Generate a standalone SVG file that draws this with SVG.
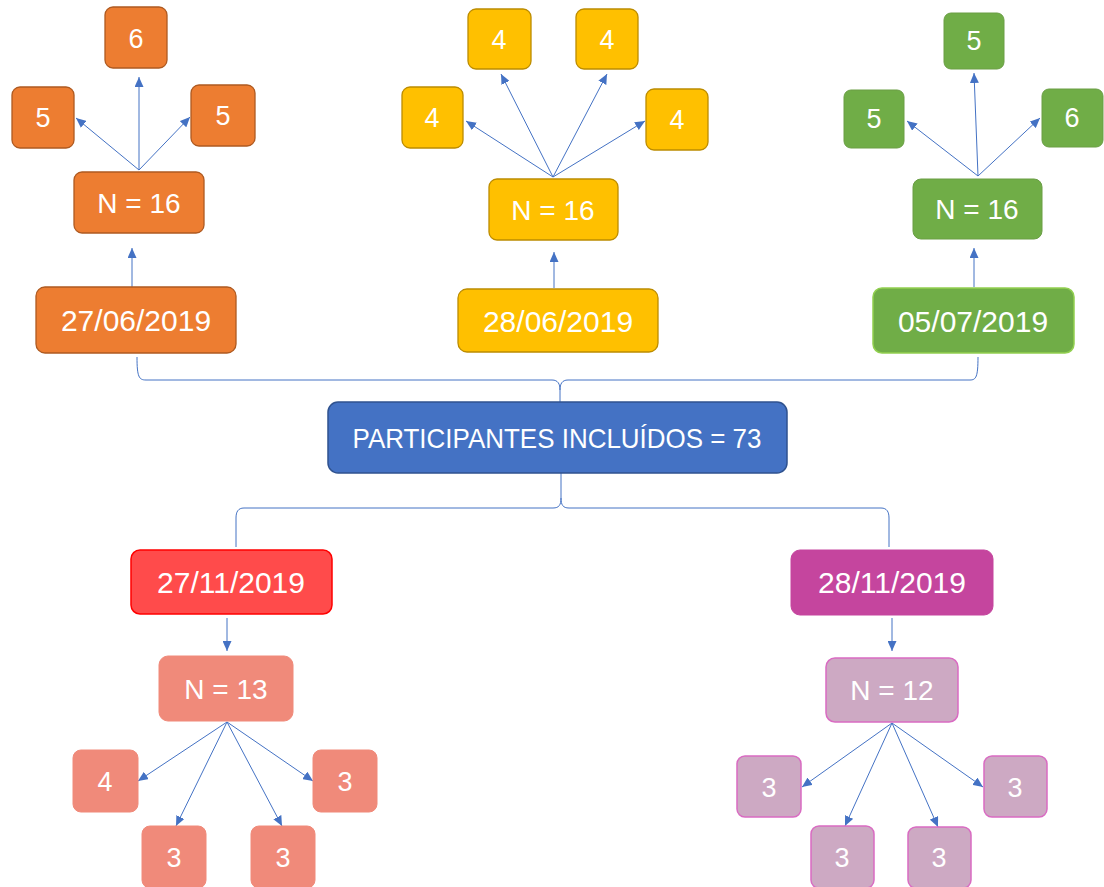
<svg xmlns="http://www.w3.org/2000/svg" width="1104" height="887" viewBox="0 0 1104 887">
<style>
text{font-family:"Liberation Sans","Open Sans",sans-serif;fill:#fff;text-anchor:middle}
.d{font-size:30px}
.n{font-size:28px}
.s{font-size:27px}
.or{fill:#ED7D31;stroke:#AE5A21;stroke-width:1.3}
.ye{fill:#FFC000;stroke:#BC8C00;stroke-width:1.3}
.gr{fill:#70AD47;stroke:#6A9E45;stroke-width:1}
.grd{fill:#70AD47;stroke:#92D050;stroke-width:1.5}
.bl{fill:#4472C4;stroke:#2F528F;stroke-width:1.5}
.rd{fill:#FF4B4B;stroke:#FF0000;stroke-width:1.5}
.mg{fill:#C5459E;stroke:#C5459E}
.sa{fill:#F08A7A;stroke:#F08A7A}
.lp{fill:#CDA9C3;stroke:#D96BC2;stroke-width:1.5}
.c{fill:none;stroke:#4472C4;stroke-width:1}
.a{fill:none;stroke:#4472C4;stroke-width:1;marker-end:url(#ah)}
</style>
<defs>
<marker id="ah" markerUnits="userSpaceOnUse" markerWidth="11" markerHeight="9" refX="10" refY="4.5" orient="auto">
<path d="M0,0 L10,4.5 L0,9 z" fill="#4472C4"/>
</marker>
</defs>
<rect width="1104" height="887" fill="#fff"/>
<g id="connectors">
<path class="c" d="M137,357 C137,377 139,380 146,380 L552,380 C558,380 560,384 560,390 L560,403"/>
<path class="c" d="M560,390 C560,384 562,380 568,380 L970,380 C976,380 978,377 978,357"/>
<path class="c" d="M561,473 L561,498 C561,505 559,508 553,508 L244,508 C238,508 236,512 236,518 L236,547"/>
<path class="c" d="M561,498 C561,505 563,508 569,508 L881,508 C887,508 889,512 889,518 L889,547"/>
<line class="a" x1="132" y1="287" x2="132" y2="248"/>
<line class="a" x1="139" y1="170" x2="139" y2="77"/>
<line class="a" x1="139" y1="170" x2="76" y2="118"/>
<line class="a" x1="139" y1="170" x2="190" y2="117"/>
<line class="a" x1="554" y1="288" x2="554" y2="252"/>
<line class="a" x1="553" y1="177" x2="466" y2="121"/>
<line class="a" x1="553" y1="177" x2="501" y2="74"/>
<line class="a" x1="553" y1="177" x2="607" y2="74"/>
<line class="a" x1="553" y1="177" x2="645" y2="121"/>
<line class="a" x1="974" y1="287" x2="974" y2="248"/>
<line class="a" x1="978" y1="176" x2="907" y2="121"/>
<line class="a" x1="978" y1="176" x2="974" y2="73"/>
<line class="a" x1="978" y1="176" x2="1040" y2="118"/>
<line class="a" x1="227" y1="618" x2="227" y2="651"/>
<line class="a" x1="227" y1="722" x2="138" y2="781"/>
<line class="a" x1="227" y1="722" x2="176" y2="826"/>
<line class="a" x1="227" y1="722" x2="282" y2="826"/>
<line class="a" x1="227" y1="722" x2="313" y2="781"/>
<line class="a" x1="892" y1="618" x2="892" y2="651"/>
<line class="a" x1="892" y1="723" x2="802" y2="787"/>
<line class="a" x1="892" y1="723" x2="845" y2="826"/>
<line class="a" x1="892" y1="723" x2="938" y2="827"/>
<line class="a" x1="892" y1="723" x2="983" y2="787"/>
</g>
<g id="o6"><rect class="or" x="105" y="7" width="62" height="61" rx="8"/><text class="s" x="136" y="48">6</text></g>
<g id="o5L"><rect class="or" x="12" y="87" width="62" height="61" rx="8"/><text class="s" x="43" y="127">5</text></g>
<g id="o5R"><rect class="or" x="191" y="85" width="64" height="61" rx="8"/><text class="s" x="223" y="125">5</text></g>
<g id="oN"><rect class="or" x="74" y="172" width="130" height="61" rx="8" stroke="none"/><text class="n" x="139" y="213">N = 16</text></g>
<g id="oD"><rect class="or" x="36" y="287" width="200" height="66" rx="9"/><text class="d" x="136" y="331">27/06/2019</text></g>
<g id="y4a"><rect class="ye" x="468" y="9" width="63" height="60" rx="8"/><text class="s" x="499" y="49">4</text></g>
<g id="y4b"><rect class="ye" x="576" y="9" width="62" height="60" rx="8"/><text class="s" x="607" y="49">4</text></g>
<g id="y4c"><rect class="ye" x="402" y="87" width="61" height="61" rx="8"/><text class="s" x="432" y="127">4</text></g>
<g id="y4d"><rect class="ye" x="646" y="89" width="62" height="61" rx="8"/><text class="s" x="677" y="129">4</text></g>
<g id="yN"><rect class="ye" x="489" y="179" width="129" height="61" rx="8" stroke="none"/><text class="n" x="553" y="220">N = 16</text></g>
<g id="yD"><rect class="ye" x="458" y="289" width="200" height="63" rx="9"/><text class="d" x="558" y="332">28/06/2019</text></g>
<g id="g5T"><rect class="gr" x="944" y="13" width="60" height="56" rx="7"/><text class="s" x="974" y="50">5</text></g>
<g id="g5L"><rect class="gr" x="844" y="90" width="60" height="58" rx="7"/><text class="s" x="874" y="128">5</text></g>
<g id="g6R"><rect class="gr" x="1042" y="89" width="61" height="58" rx="7"/><text class="s" x="1072" y="127">6</text></g>
<g id="gN"><rect class="gr" x="913" y="179" width="129" height="60" rx="8"/><text class="n" x="977" y="219">N = 16</text></g>
<g id="gD"><rect class="grd" x="873" y="288" width="201" height="65" rx="9"/><text class="d" x="973" y="332">05/07/2019</text></g>
<g id="main"><rect class="bl" x="328" y="402" width="459" height="71" rx="10"/><text x="557" y="448" font-size="28" textLength="409" lengthAdjust="spacingAndGlyphs">PARTICIPANTES INCLUÍDOS = 73</text></g>
<g id="rD"><rect class="rd" x="131" y="550" width="201" height="64" rx="9"/><text class="d" x="231" y="593">27/11/2019</text></g>
<g id="sN"><rect class="sa" x="159" y="656" width="134" height="65" rx="9"/><text class="n" x="226" y="699">N = 13</text></g>
<g id="s4"><rect class="sa" x="73" y="750" width="65" height="62" rx="8"/><text class="s" x="105" y="791">4</text></g>
<g id="s3R"><rect class="sa" x="313" y="750" width="64" height="62" rx="8"/><text class="s" x="345" y="791">3</text></g>
<g id="s3BL"><rect class="sa" x="142" y="826" width="64" height="62" rx="8"/><text class="s" x="174" y="867">3</text></g>
<g id="s3BR"><rect class="sa" x="251" y="826" width="64" height="62" rx="8"/><text class="s" x="283" y="867">3</text></g>
<g id="mD"><rect class="mg" x="791" y="550" width="202" height="65" rx="9"/><text class="d" x="892" y="593">28/11/2019</text></g>
<g id="pN"><rect class="lp" x="826" y="658" width="132" height="64" rx="9"/><text class="n" x="892" y="700">N = 12</text></g>
<g id="p3L"><rect class="lp" x="737" y="756" width="64" height="61" rx="8"/><text class="s" x="769" y="797">3</text></g>
<g id="p3R"><rect class="lp" x="984" y="756" width="63" height="61" rx="8"/><text class="s" x="1015" y="797">3</text></g>
<g id="p3BL"><rect class="lp" x="811" y="826" width="63" height="62" rx="8"/><text class="s" x="842" y="867">3</text></g>
<g id="p3BR"><rect class="lp" x="908" y="827" width="63" height="61" rx="8"/><text class="s" x="939" y="867">3</text></g>
</svg>
